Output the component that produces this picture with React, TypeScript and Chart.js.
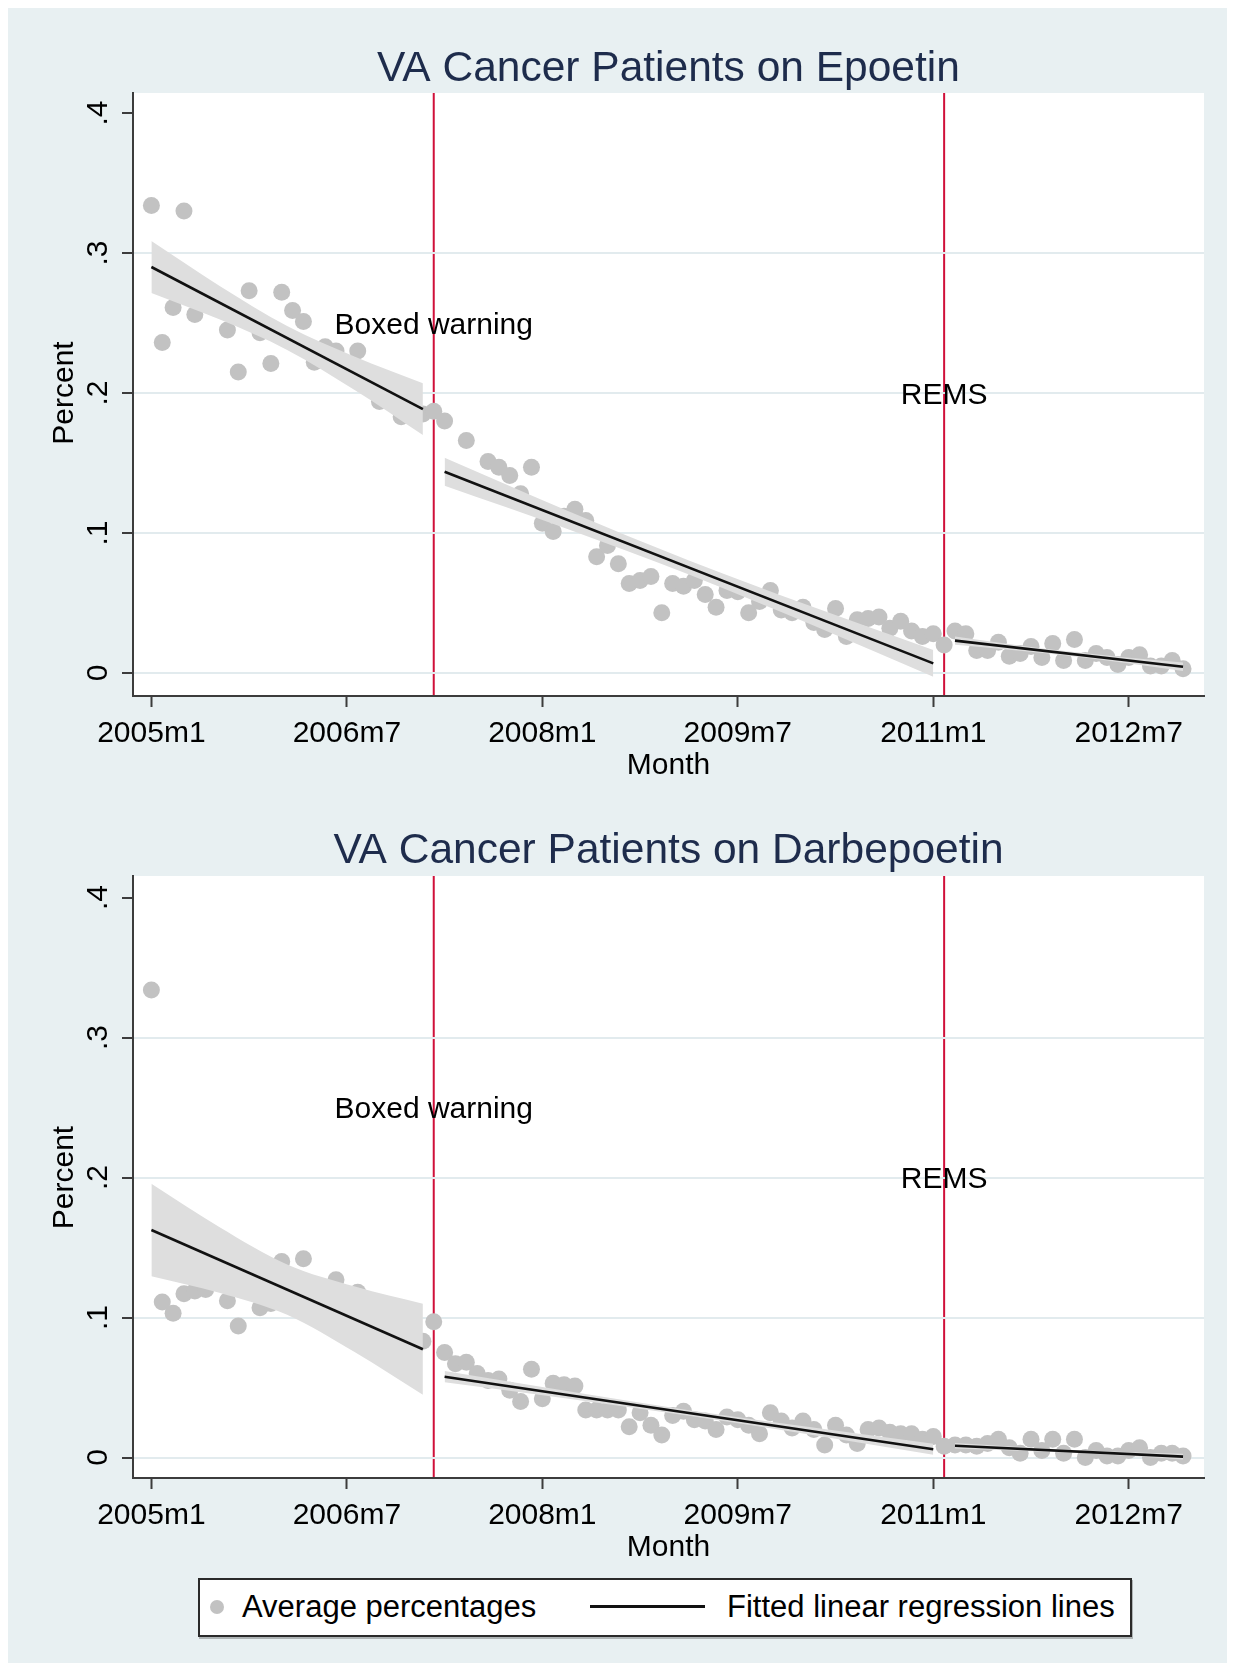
import React, { useEffect, useRef } from "react";
import { Chart, registerables } from "chart.js";

Chart.register(...registerables);

const FONT = '"Liberation Sans", Arial, Helvetica, sans-serif';

// ---- axes ----
const xTickValues = [0, 18, 36, 54, 72, 90];
const xTickLabels = ["2005m1", "2006m7", "2008m1", "2009m7", "2011m1", "2012m7"];
const yTickValues = [0, 0.1, 0.2, 0.3, 0.4];
const yTickLabels = ["0", ".1", ".2", ".3", ".4"];

// ---- interventions ----
const eventMonths = [26, 73];
const eventLabels = ["Boxed warning", "REMS"];
const eventLabelY = [0.25, 0.2];

// ---- regression segments (month index from 2005m1) ----
const segmentStarts = [0, 27, 74];
const segmentEnds = [25, 72, 95];
const bandMonths = [
  [0, 6.25, 12.5, 18.75, 25],
  [27, 38.25, 49.5, 60.75, 72],
  [74, 79.25, 84.5, 89.75, 95],
];

// ---- Epoetin ----
const epoetinPct = [
  0.334, 0.236, 0.261, 0.330, 0.256, 0.268, 0.262, 0.245, 0.215, 0.273,
  0.243, 0.221, 0.272, 0.259, 0.251, 0.222, 0.233, 0.230, 0.219, 0.230,
  0.205, 0.194, 0.197, 0.183, 0.188, 0.185, 0.187, 0.180, 0.142, 0.166,
  0.135, 0.151, 0.147, 0.141, 0.128, 0.147, 0.107, 0.101, 0.112, 0.117,
  0.109, 0.083, 0.091, 0.078, 0.064, 0.066, 0.069, 0.043, 0.064, 0.062,
  0.066, 0.056, 0.047, 0.059, 0.058, 0.043, 0.051, 0.059, 0.045, 0.043,
  0.047, 0.036, 0.031, 0.046, 0.026, 0.038, 0.039, 0.040, 0.032, 0.037,
  0.030, 0.026, 0.028, 0.020, 0.030, 0.028, 0.016, 0.016, 0.022, 0.012,
  0.014, 0.019, 0.011, 0.021, 0.009, 0.024, 0.009, 0.014, 0.011, 0.006,
  0.011, 0.013, 0.005, 0.005, 0.009, 0.003,
];
const epoetinFitStart = [0.290, 0.1438, 0.0231];
const epoetinFitEnd = [0.1885, 0.0069, 0.0045];
const epoetinBandLower = [
  [0.2715, 0.2526, 0.2308, 0.2019, 0.170],
  [0.1338, 0.1031, 0.0704, 0.0346, -0.0026],
  [0.0201, 0.0164, 0.0123, 0.0071, 0.0015],
];
const epoetinBandUpper = [
  [0.3085, 0.2766, 0.2478, 0.2259, 0.207],
  [0.1538, 0.1161, 0.0804, 0.0476, 0.0164],
  [0.0261, 0.0204, 0.0153, 0.0111, 0.0075],
];

// ---- Darbepoetin ----
const darbepoetinPct = [
  0.334, 0.111, 0.103, 0.117, 0.119, 0.120, 0.130, 0.112, 0.094, 0.128,
  0.107, 0.110, 0.140, 0.128, 0.142, 0.120, 0.118, 0.127, 0.110, 0.118,
  0.100, 0.095, 0.090, 0.085, 0.080, 0.083, 0.097, 0.075, 0.067, 0.068,
  0.060, 0.055, 0.056, 0.048, 0.040, 0.063, 0.042, 0.053, 0.052, 0.051,
  0.034, 0.034, 0.034, 0.034, 0.022, 0.032, 0.023, 0.016, 0.030, 0.033,
  0.027, 0.026, 0.020, 0.029, 0.027, 0.023, 0.017, 0.032, 0.026, 0.021,
  0.026, 0.020, 0.009, 0.023, 0.016, 0.010, 0.020, 0.021, 0.018, 0.017,
  0.017, 0.013, 0.015, 0.008, 0.009, 0.009, 0.008, 0.010, 0.013, 0.007,
  0.003, 0.013, 0.005, 0.013, 0.003, 0.013, 0.000, 0.005, 0.001, 0.001,
  0.005, 0.007, 0.000, 0.003, 0.003, 0.001,
];
const darbepoetinFitStart = [0.1625, 0.0577, 0.0084];
const darbepoetinFitEnd = [0.0773, 0.0059, 0.0006];
const darbepoetinBandLower = [
  [0.1295, 0.1177, 0.1019, 0.0751, 0.0448],
  [0.0537, 0.0421, 0.0298, 0.0162, 0.0019],
  [0.0064, 0.0050, 0.0035, 0.0012, -0.0014],
];
const darbepoetinBandUpper = [
  [0.1955, 0.1647, 0.1379, 0.1221, 0.1098],
  [0.0617, 0.0475, 0.0338, 0.0216, 0.0099],
  [0.0104, 0.0078, 0.0055, 0.0040, 0.0026],
];

// ---- styling ----
const BG = "#e8f0f2";
const AXIS = "#3c3c3c";
const GRID = "#e2ebee";
const DOT = "#c2c2c2";
const BAND = "#dedede";
const FIT = "#111111";
const EVENT = "#d0103a";
const TITLE = "#1e2c4c";

const CANVAS_W = 1219;
const PLOT_LEFT = 125;
const PLOT_RIGHT = 1196;
const X_MIN = -1.694;
const X_MAX = 96.93;

type PanelSpec = {
  title: string;
  values: number[];
  fitStart: number[];
  fitEnd: number[];
  bandLower: number[][];
  bandUpper: number[][];
  yMin: number;
  yMax: number;
  canvasH: number;
  plotTop: number;
  plotBottom: number;
  titleBaseline: number;
};

function buildConfig(spec: PanelSpec): any {
  const datasets: any[] = [];
  for (let s = 0; s < segmentStarts.length; s++) {
    datasets.push({
      type: "line",
      data: [
        { x: segmentStarts[s], y: spec.fitStart[s] },
        { x: segmentEnds[s], y: spec.fitEnd[s] },
      ],
      borderColor: FIT,
      borderWidth: 2.6,
      pointRadius: 0,
      fill: false,
      order: 1,
    });
  }
  for (let s = 0; s < segmentStarts.length; s++) {
    datasets.push({
      type: "line",
      data: bandMonths[s].map((m, i) => ({ x: m, y: spec.bandLower[s][i] })),
      borderColor: "rgba(0,0,0,0)",
      borderWidth: 0,
      pointRadius: 0,
      fill: false,
      cubicInterpolationMode: "monotone",
      order: 5,
    });
    datasets.push({
      type: "line",
      data: bandMonths[s].map((m, i) => ({ x: m, y: spec.bandUpper[s][i] })),
      borderColor: "rgba(0,0,0,0)",
      borderWidth: 0,
      pointRadius: 0,
      fill: "-1",
      backgroundColor: BAND,
      cubicInterpolationMode: "monotone",
      order: 5,
    });
  }
  datasets.push({
    type: "scatter",
    data: spec.values.map((v, i) => ({ x: i, y: v })),
    pointRadius: 8.5,
    pointHoverRadius: 8.5,
    backgroundColor: DOT,
    borderWidth: 0,
    order: 10,
  });

  const decor = {
    id: "decor",
    beforeDraw(chart: any) {
      const ctx = chart.ctx;
      const { left, right, top, bottom } = chart.chartArea;
      const xs = chart.scales.x;
      ctx.save();
      ctx.fillStyle = "#ffffff";
      ctx.fillRect(left, top, right - left, bottom - top);
      ctx.strokeStyle = EVENT;
      ctx.lineWidth = 2;
      eventMonths.forEach((m) => {
        const px = xs.getPixelForValue(m);
        ctx.beginPath();
        ctx.moveTo(px, top);
        ctx.lineTo(px, bottom);
        ctx.stroke();
      });
      ctx.restore();
    },
    afterDraw(chart: any) {
      const ctx = chart.ctx;
      const { left, right, bottom } = chart.chartArea;
      const xs = chart.scales.x;
      const ys = chart.scales.y;
      const cx = (left + right) / 2;
      ctx.save();
      ctx.textAlign = "center";
      ctx.textBaseline = "alphabetic";
      ctx.font = `42.5px ${FONT}`;
      ctx.fillStyle = TITLE;
      ctx.fillText(spec.title, cx, spec.titleBaseline);

      ctx.font = `30px ${FONT}`;
      ctx.fillStyle = "#000000";
      xTickValues.forEach((v, i) => {
        ctx.fillText(xTickLabels[i], xs.getPixelForValue(v), bottom + 46);
      });
      ctx.fillText("Month", cx, bottom + 78);

      yTickValues.forEach((v, i) => {
        ctx.save();
        ctx.translate(99, ys.getPixelForValue(v));
        ctx.rotate(-Math.PI / 2);
        ctx.fillText(yTickLabels[i], 0, 0);
        ctx.restore();
      });
      ctx.save();
      ctx.translate(65, ys.getPixelForValue(0.2));
      ctx.rotate(-Math.PI / 2);
      ctx.fillText("Percent", 0, 0);
      ctx.restore();

      eventMonths.forEach((m, i) => {
        ctx.fillText(
          eventLabels[i],
          xs.getPixelForValue(m),
          ys.getPixelForValue(eventLabelY[i]) + 10.7
        );
      });
      ctx.restore();
    },
  };

  return {
    data: { datasets },
    options: {
      responsive: false,
      animation: false,
      events: [],
      layout: {
        padding: { top: spec.plotTop, left: 0, right: CANVAS_W - PLOT_RIGHT, bottom: 0 },
      },
      plugins: {
        legend: { display: false },
        tooltip: { enabled: false },
        title: { display: false },
      },
      scales: {
        x: {
          type: "linear",
          min: X_MIN,
          max: X_MAX,
          bounds: "data",
          afterBuildTicks: (scale: any) => {
            scale.ticks = xTickValues.map((v) => ({ value: v }));
          },
          afterFit: (scale: any) => {
            scale.height = spec.canvasH - spec.plotBottom;
          },
          ticks: { display: false },
          grid: {
            drawOnChartArea: false,
            drawTicks: true,
            tickLength: 11,
            tickColor: AXIS,
            tickWidth: 2,
          },
          border: { display: true, color: AXIS, width: 2 },
        },
        y: {
          type: "linear",
          min: spec.yMin,
          max: spec.yMax,
          bounds: "data",
          afterBuildTicks: (scale: any) => {
            scale.ticks = yTickValues.map((v) => ({ value: v }));
          },
          afterFit: (scale: any) => {
            scale.width = PLOT_LEFT;
          },
          ticks: { display: false },
          grid: {
            drawOnChartArea: true,
            drawTicks: true,
            tickLength: 11,
            tickColor: AXIS,
            tickWidth: 2,
            lineWidth: 2,
            color: (c: any) =>
              c.tick && c.tick.value > 0.35 ? "rgba(0,0,0,0)" : GRID,
          },
          border: { display: true, color: AXIS, width: 2 },
        },
      },
    },
    plugins: [decor],
  };
}

function Panel({ spec, top }: { spec: PanelSpec; top: number }) {
  const ref = useRef<HTMLCanvasElement>(null);
  useEffect(() => {
    const chart = new Chart(ref.current as HTMLCanvasElement, buildConfig(spec));
    return () => chart.destroy();
  }, [spec]);
  return (
    <canvas
      ref={ref}
      width={CANVAS_W}
      height={spec.canvasH}
      style={{
        position: "absolute",
        left: 0,
        top,
        width: CANVAS_W,
        height: spec.canvasH,
      }}
    />
  );
}

const topSpec: PanelSpec = {
  title: "VA Cancer Patients on Epoetin",
  values: epoetinPct,
  fitStart: epoetinFitStart,
  fitEnd: epoetinFitEnd,
  bandLower: epoetinBandLower,
  bandUpper: epoetinBandUpper,
  yMin: -0.01643,
  yMax: 0.41429,
  canvasH: 790,
  plotTop: 85,
  plotBottom: 688,
  titleBaseline: 73,
};

const bottomSpec: PanelSpec = {
  title: "VA Cancer Patients on Darbepoetin",
  values: darbepoetinPct,
  fitStart: darbepoetinFitStart,
  fitEnd: darbepoetinFitEnd,
  bandLower: darbepoetinBandLower,
  bandUpper: darbepoetinBandUpper,
  yMin: -0.01464,
  yMax: 0.41536,
  canvasH: 780,
  plotTop: 78,
  plotBottom: 680,
  titleBaseline: 65,
};

export default function App() {
  return (
    <div
      style={{
        position: "relative",
        width: 1223,
        height: 1663,
        marginBottom: -8,
        background: BG,
        overflow: "hidden",
        fontFamily: FONT,
      }}
    >
      <Panel spec={topSpec} top={0} />
      <Panel spec={bottomSpec} top={790} />
      <div
        style={{
          position: "absolute",
          left: 190,
          top: 1570,
          width: 934,
          height: 59,
          boxSizing: "border-box",
          background: "#ffffff",
          border: "2px solid #2a2a2a",
          boxShadow: "1px 2px 0 rgba(0,0,0,0.25)",
        }}
      >
        <span
          style={{
            position: "absolute",
            left: 10,
            top: 20,
            width: 14,
            height: 14,
            borderRadius: "50%",
            background: DOT,
          }}
        />
        <span
          style={{
            position: "absolute",
            left: 42,
            top: 11,
            fontSize: 31,
            lineHeight: "31px",
            color: "#000",
            whiteSpace: "nowrap",
          }}
        >
          Average percentages
        </span>
        <span
          style={{
            position: "absolute",
            left: 390,
            top: 25,
            width: 115,
            height: 3,
            background: FIT,
          }}
        />
        <span
          style={{
            position: "absolute",
            left: 527,
            top: 11,
            fontSize: 31,
            lineHeight: "31px",
            color: "#000",
            whiteSpace: "nowrap",
          }}
        >
          Fitted linear regression lines
        </span>
      </div>
    </div>
  );
}
